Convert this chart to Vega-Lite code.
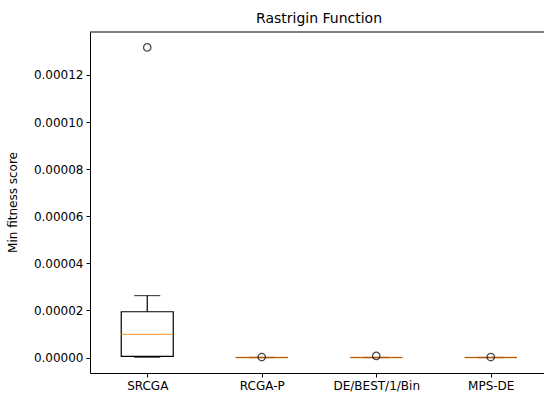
{
  "$schema": "https://vega.github.io/schema/vega-lite/v6.json",
  "autosize": {"type": "none"},
  "padding": {"left": 90, "top": 32, "right": 0, "bottom": 23},
  "width": 458,
  "height": 341,
  "background": "white",
  "config": {
    "view": {"stroke": null},
    "font": "DejaVu Sans",
    "axis": {"labelFont": "DejaVu Sans", "labelFontSize": 12, "labelColor": "black", "domainColor": "black", "tickColor": "black", "tickSize": 4, "labelPadding": 3, "grid": false, "titleFont": "DejaVu Sans", "titleFontWeight": "normal", "titleColor": "black", "titleFontSize": 12}
  },
  "title": {"text": "Rastrigin Function", "fontSize": 14, "fontWeight": "normal", "font": "DejaVu Sans", "color": "black", "offset": 6},
  "data": {
    "values": [
      {"alg": "SRCGA", "lo": 0.0000001, "q1": 0.0000005, "med": 0.00000985, "q3": 0.00001944, "hi": 0.0000263},
      {"alg": "RCGA-P", "lo": 0, "q1": 0, "med": 0, "q3": 0, "hi": 0},
      {"alg": "DE/BEST/1/Bin", "lo": 0, "q1": 0, "med": 0, "q3": 0, "hi": 0},
      {"alg": "MPS-DE", "lo": 0, "q1": 0, "med": 0, "q3": 0, "hi": 0}
    ]
  },
  "encoding": {
    "x": {"field": "alg", "type": "nominal", "sort": null, "scale": {"type": "point", "padding": 0.5}, "axis": {"title": null, "labelAngle": 0}}
  },
  "layer": [
    {
      "mark": {"type": "rule", "color": "black", "strokeWidth": 1.2},
      "encoding": {
        "y": {"field": "lo", "type": "quantitative", "scale": {"domain": [-0.00000658, 0.00013825], "nice": false, "zero": false}, "axis": {"title": "Min fitness score", "format": ".5f", "values": [0, 0.00002, 0.00004, 0.00006, 0.00008, 0.0001, 0.00012], "titleAngle": 270, "titleBaseline": "bottom", "titleAlign": "center", "titleX": -71, "titleY": 170}},
        "y2": {"field": "hi"}
      }
    },
    {
      "mark": {"type": "tick", "color": "black", "thickness": 1.2, "size": 26},
      "encoding": {"y": {"field": "lo", "type": "quantitative"}}
    },
    {
      "mark": {"type": "tick", "color": "black", "thickness": 1.2, "size": 26},
      "encoding": {"y": {"field": "hi", "type": "quantitative"}}
    },
    {
      "mark": {"type": "bar", "fill": "white", "stroke": "black", "strokeWidth": 1.2, "size": 52},
      "encoding": {"y": {"field": "q1", "type": "quantitative"}, "y2": {"field": "q3"}}
    },
    {
      "mark": {"type": "tick", "color": "#ff7f0e", "thickness": 1.3, "size": 52},
      "encoding": {"y": {"field": "med", "type": "quantitative"}}
    },
    {
      "data": {
        "values": [
          {"alg": "SRCGA", "v": 0.0001317},
          {"alg": "RCGA-P", "v": 0.0000002},
          {"alg": "DE/BEST/1/Bin", "v": 0.0000007},
          {"alg": "MPS-DE", "v": 0.0000002}
        ]
      },
      "mark": {"type": "point", "shape": "circle", "filled": false, "stroke": "black", "strokeWidth": 1.3, "size": 55},
      "encoding": {"y": {"field": "v", "type": "quantitative"}}
    },
    {
      "data": {"values": [{"top": 0.00013825}]},
      "mark": {"type": "rule", "color": "black", "strokeWidth": 1},
      "encoding": {"x": null, "y": {"field": "top", "type": "quantitative"}}
    }
  ]
}
